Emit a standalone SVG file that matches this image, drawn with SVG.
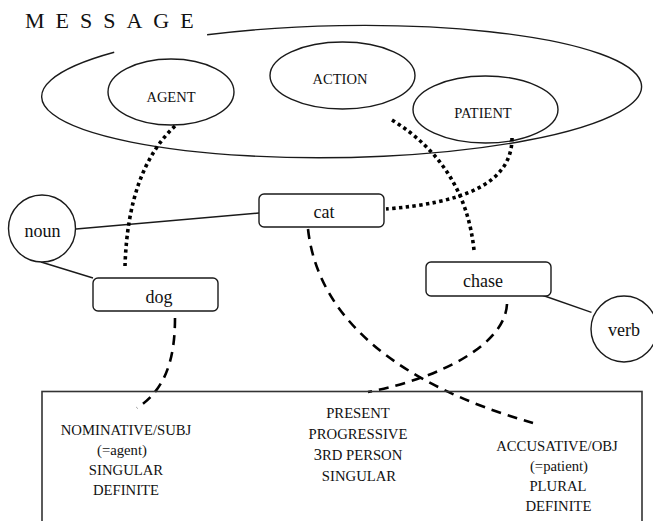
<svg xmlns="http://www.w3.org/2000/svg" width="653" height="521" viewBox="0 0 653 521">
<style>
.shape{fill:none;stroke:#1a1a1a;stroke-width:1.4}
.box{fill:#fff;stroke:#1a1a1a;stroke-width:1.4}
.t{font-family:'Liberation Serif','Times New Roman',Tinos,'DejaVu Serif',serif;fill:#111;text-anchor:middle}
.lbl{font-size:14.5px}
.word{font-size:18px}
.info{font-size:14.7px}
.dot{fill:none;stroke:#000;stroke-width:3.6;stroke-dasharray:3.4 3.4}
.dash{fill:none;stroke:#000;stroke-width:2.6;stroke-dasharray:10 7}
.line{fill:none;stroke:#1a1a1a;stroke-width:1.4}
</style>
<rect width="653" height="521" fill="#fff"/>

<g id="message">
<text class="t" x="25" y="28" font-size="22" letter-spacing="11" style="text-anchor:start">MESSAGE</text>
<path class="shape" d="M 207.1 34.8 A 300 66 -1 1 1 114.2 52.3"/>
</g>

<g id="agent">
<ellipse class="shape" cx="171" cy="92" rx="63" ry="33"/>
<text class="t lbl" x="171" y="102">AGENT</text>
</g>
<g id="action">
<ellipse class="shape" cx="342.5" cy="75.5" rx="72.5" ry="33.5"/>
<text class="t lbl" x="340" y="84">ACTION</text>
</g>
<g id="patient">
<ellipse class="shape" cx="485.5" cy="109.5" rx="72.5" ry="33.5"/>
<text class="t lbl" x="483" y="118">PATIENT</text>
</g>

<g id="connectors">
<path class="line" d="M 76 229 L 259 213"/>
<path class="line" d="M 41 262 L 93 278"/>
<path class="line" d="M 541.7 295 L 591.5 312.3"/>
<path class="dot" d="M 175 126 Q 128 170 125 266"/>
<path class="dot" d="M 392 120 Q 465 165 474 250"/>
<path class="dot" d="M 512 138 C 512 185 460 203 386 209"/>
<path class="dash" d="M 175 318 C 175 360 165 390 137 408"/>
<path class="dash" d="M 308 229 C 318 320 400 385 533 423"/>
<path class="dash" d="M 507 304 C 505 345 440 378 368 392"/>
</g>

<g id="noun">
<circle class="box" cx="42" cy="228.5" r="33.5"/>
<text class="t word" x="42.5" y="237">noun</text>
</g>
<g id="verb">
<circle class="box" cx="624" cy="329" r="33"/>
<text class="t word" x="624" y="336">verb</text>
</g>
<g id="cat">
<rect class="box" x="259" y="194" width="125" height="33" rx="5"/>
<text class="t word" x="324" y="218">cat</text>
</g>
<g id="dog">
<rect class="box" x="93" y="278" width="125" height="33" rx="5"/>
<text class="t word" x="159" y="303">dog</text>
</g>
<g id="chase">
<rect class="box" x="426" y="262" width="125" height="34" rx="5"/>
<text class="t word" x="483" y="287">chase</text>
</g>

<g id="features">
<rect x="42" y="391.5" width="600" height="140" fill="none" stroke="#333" stroke-width="1.6"/>
<text class="t info" x="126" y="435">NOMINATIVE/SUBJ</text>
<text class="t info" x="122" y="455">(=agent)</text>
<text class="t info" x="126" y="475">SINGULAR</text>
<text class="t info" x="126" y="495">DEFINITE</text>
<text class="t info" x="358" y="418">PRESENT</text>
<text class="t info" x="358" y="439">PROGRESSIVE</text>
<text class="t info" x="358" y="460"><tspan font-size="16.5">3</tspan>RD PERSON</text>
<text class="t info" x="359" y="481">SINGULAR</text>
<text class="t info" x="557" y="451">ACCUSATIVE/OBJ</text>
<text class="t info" x="559" y="471">(=patient)</text>
<text class="t info" x="558" y="491">PLURAL</text>
<text class="t info" x="558.5" y="511">DEFINITE</text>
</g>
</svg>
